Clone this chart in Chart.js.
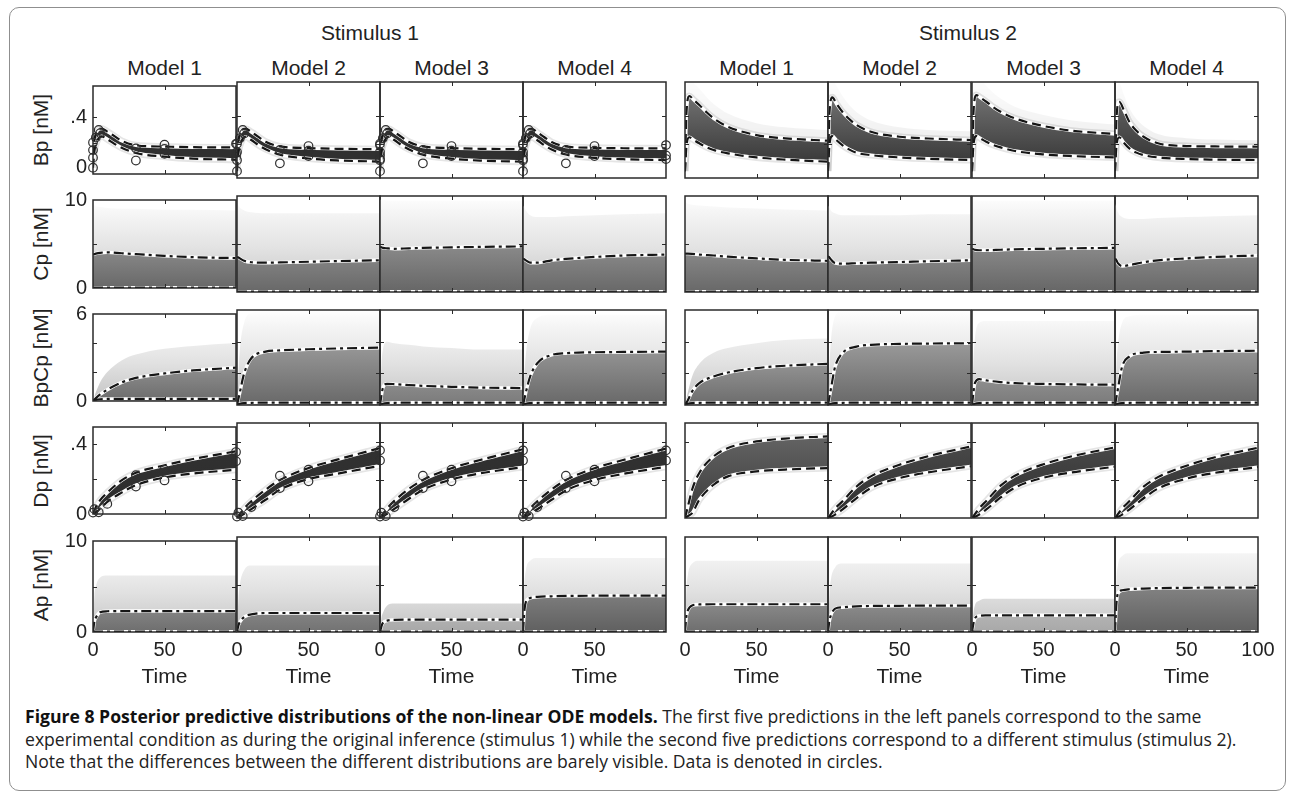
<!DOCTYPE html>
<html lang="en">
<head>
<meta charset="UTF-8">
<title>Figure 8 - Posterior predictive distributions</title>
<script src="https://cdn.jsdelivr.net/npm/chart.js"></script>
<style>
  body { margin: 0; background: #fff; font-family: "Liberation Sans", Arial, sans-serif; }
  #fig { position: relative; width: 1295px; height: 794px; overflow: hidden; background: #fff; }
  #frame { position: absolute; left: 9px; top: 7px; width: 1275px; height: 782px; border: 1.5px solid #8f8f8f; border-radius: 10px; }
  .lbl { position: absolute; font-size: 21px; color: #222; white-space: nowrap; transform: translate(-50%, -50%); }
  .ylab { transform: translate(-50%, -50%) rotate(-90deg); }
  canvas { position: absolute; }
  #caption { position: absolute; left: 25px; top: 705px; font-family: "Open Sans", sans-serif; font-size: 17.6px; line-height: 22.5px; color: #222; white-space: nowrap; }
  #caption b { color: #111; }
</style>
</head>
<body>
<div id="fig">
  <div id="frame"></div>
  <div id="caption"><b>Figure 8 Posterior predictive distributions of the non-linear ODE models.</b> The first five predictions in the left panels correspond to the same<br>experimental condition as during the original inference (stimulus 1) while the second five predictions correspond to a different stimulus (stimulus 2).<br>Note that the differences between the different distributions are barely visible. Data is denoted in circles.</div>
</div>
<script>
// ---- data ----
const tBp = [0, 1, 3, 6, 10, 15, 20, 30, 50, 70, 100];
const tGen = [0, 1, 2, 5, 10, 20, 30, 50, 70, 100];

const groupTitles = ['Stimulus 1', 'Stimulus 2'];
const modelTitles = ['Model 1', 'Model 2', 'Model 3', 'Model 4'];
const rowLabels = ['Bp [nM]', 'Cp [nM]', 'BpCp [nM]', 'Dp [nM]', 'Ap [nM]'];

// Bp: upper / lower dashed quantiles, one row per model
const bpUpS1 = [
  [0.10, 0.22, 0.295, 0.312, 0.287, 0.251, 0.214, 0.178, 0.168, 0.163, 0.161],
  [0.10, 0.22, 0.295, 0.310, 0.285, 0.250, 0.215, 0.180, 0.168, 0.163, 0.160],
  [0.10, 0.22, 0.295, 0.310, 0.285, 0.250, 0.215, 0.180, 0.168, 0.163, 0.160],
  [0.10, 0.22, 0.295, 0.310, 0.283, 0.247, 0.212, 0.180, 0.170, 0.167, 0.166]
];
const bpLoS1 = [
  [0.00, 0.13, 0.215, 0.250, 0.227, 0.190, 0.159, 0.117, 0.088, 0.072, 0.064],
  [0.00, 0.13, 0.215, 0.250, 0.227, 0.190, 0.160, 0.120, 0.092, 0.078, 0.070],
  [0.00, 0.13, 0.215, 0.250, 0.227, 0.190, 0.160, 0.120, 0.091, 0.077, 0.069],
  [0.00, 0.13, 0.215, 0.248, 0.225, 0.188, 0.158, 0.121, 0.097, 0.087, 0.081]
];
const bpUpS2 = [
  [0.00, 0.42, 0.548, 0.520, 0.482, 0.430, 0.385, 0.324, 0.263, 0.239, 0.222],
  [0.00, 0.42, 0.538, 0.490, 0.433, 0.378, 0.336, 0.287, 0.251, 0.238, 0.227],
  [0.00, 0.42, 0.555, 0.535, 0.506, 0.466, 0.433, 0.385, 0.329, 0.295, 0.271],
  [0.00, 0.38, 0.506, 0.450, 0.360, 0.294, 0.251, 0.203, 0.183, 0.180, 0.178]
];
const bpLoS2 = [
  [0.00, 0.18, 0.247, 0.228, 0.203, 0.175, 0.154, 0.130, 0.100, 0.084, 0.069],
  [0.00, 0.19, 0.256, 0.225, 0.190, 0.157, 0.134, 0.117, 0.100, 0.090, 0.081],
  [0.00, 0.19, 0.256, 0.238, 0.214, 0.190, 0.173, 0.147, 0.122, 0.110, 0.100],
  [0.00, 0.18, 0.247, 0.210, 0.166, 0.135, 0.117, 0.100, 0.088, 0.084, 0.081]
];
const bpHazeS2 = [
  [0.00, 0.62, 0.66, 0.64, 0.60, 0.54, 0.49, 0.42, 0.35, 0.32, 0.30],
  [0.00, 0.62, 0.66, 0.62, 0.55, 0.48, 0.43, 0.37, 0.32, 0.30, 0.29],
  [0.00, 0.62, 0.66, 0.66, 0.62, 0.57, 0.53, 0.47, 0.41, 0.37, 0.34],
  [0.00, 0.58, 0.64, 0.56, 0.46, 0.38, 0.33, 0.27, 0.24, 0.23, 0.225]
];
const bpObsT = [0, 0, 0, 0, 2, 4, 5, 30, 30, 50, 50, 50, 100, 100, 100];
const bpObsV = [0.0, 0.08, 0.14, 0.20, 0.24, 0.30, 0.275, 0.154, 0.057, 0.183, 0.149, 0.11, 0.19, 0.115, 0.088];

// Cp: upper dashed quantile and top of the light spread
const cpUpS1 = [
  [3.80, 3.85, 3.90, 4.00, 4.05, 3.95, 3.85, 3.65, 3.50, 3.40],
  [3.65, 3.60, 3.50, 3.25, 3.10, 3.05, 3.08, 3.15, 3.22, 3.30],
  [4.70, 4.65, 4.60, 4.55, 4.50, 4.55, 4.60, 4.65, 4.70, 4.75],
  [3.50, 3.40, 3.30, 3.05, 3.05, 3.30, 3.45, 3.65, 3.80, 3.90]
];
const cpUpS2 = [
  [4.00, 4.00, 4.00, 3.98, 3.90, 3.80, 3.68, 3.50, 3.35, 3.25],
  [3.75, 3.60, 3.40, 3.00, 2.95, 3.00, 3.05, 3.12, 3.20, 3.30],
  [4.50, 4.45, 4.40, 4.35, 4.35, 4.40, 4.45, 4.50, 4.55, 4.60],
  [3.50, 3.30, 3.00, 2.70, 2.80, 3.10, 3.30, 3.50, 3.65, 3.80]
];
const cpHazeS1 = [
  [9.4, 9.4, 9.3, 9.2, 9.1, 9.0, 9.0, 8.9, 8.9, 8.8],
  [9.2, 9.0, 8.8, 8.5, 8.3, 8.2, 8.2, 8.2, 8.2, 8.2],
  [9.6, 9.6, 9.6, 9.5, 9.5, 9.5, 9.5, 9.5, 9.5, 9.5],
  [9.0, 8.8, 8.5, 8.0, 7.8, 7.8, 7.9, 8.0, 8.1, 8.2]
];
const cpHazeS2 = [
  [9.3, 9.3, 9.2, 9.1, 9.0, 8.9, 8.8, 8.7, 8.6, 8.5],
  [9.0, 8.8, 8.5, 8.2, 8.0, 8.0, 8.0, 8.0, 8.1, 8.1],
  [9.6, 9.6, 9.6, 9.5, 9.5, 9.5, 9.5, 9.5, 9.5, 9.5],
  [9.2, 8.8, 8.3, 7.8, 7.6, 7.6, 7.7, 7.8, 7.9, 8.0]
];
const cpLo = [0.04, 0.04, 0.04, 0.04, 0.04, 0.04, 0.04, 0.04, 0.04, 0.04];

// BpCp
const bpcpUpS1 = [
  [0.00, 0.10, 0.20, 0.45, 0.78, 1.28, 1.59, 1.90, 2.11, 2.30],
  [0.00, 0.40, 0.80, 2.00, 2.95, 3.37, 3.45, 3.52, 3.57, 3.62],
  [0.00, 0.60, 1.07, 1.34, 1.32, 1.26, 1.21, 1.15, 1.10, 1.07],
  [0.00, 0.40, 0.80, 1.80, 2.64, 3.16, 3.27, 3.33, 3.35, 3.37]
];
const bpcpUpS2 = [
  [0.00, 0.15, 0.30, 0.86, 1.38, 1.80, 2.05, 2.33, 2.48, 2.60],
  [0.00, 0.50, 1.00, 2.43, 3.27, 3.69, 3.80, 3.86, 3.88, 3.90],
  [0.00, 0.80, 1.38, 1.63, 1.55, 1.45, 1.38, 1.33, 1.30, 1.28],
  [0.00, 0.50, 1.00, 2.43, 3.06, 3.31, 3.35, 3.37, 3.40, 3.43]
];
const bpcpHazeS1 = [
  [0.0, 0.3, 0.6, 1.3, 2.0, 2.8, 3.2, 3.6, 3.8, 4.0],
  [0.0, 2.0, 3.5, 5.2, 5.8, 5.9, 5.9, 5.9, 5.9, 5.9],
  [0.0, 2.5, 3.5, 4.0, 3.9, 3.8, 3.7, 3.6, 3.5, 3.5],
  [0.0, 2.0, 3.2, 4.8, 5.5, 5.7, 5.7, 5.7, 5.7, 5.7]
];
const bpcpHazeS2 = [
  [0.0, 0.4, 0.8, 1.8, 2.6, 3.3, 3.6, 3.9, 4.1, 4.2],
  [0.0, 2.5, 4.0, 5.6, 5.9, 5.9, 5.9, 5.9, 5.9, 5.9],
  [0.0, 2.8, 4.2, 5.2, 5.3, 5.3, 5.3, 5.3, 5.3, 5.3],
  [0.0, 2.5, 3.8, 5.2, 5.6, 5.7, 5.7, 5.7, 5.7, 5.7]
];
const bpcpLo = [0.00, 0.05, 0.08, 0.12, 0.14, 0.15, 0.15, 0.15, 0.15, 0.15];

// Dp
const dpUpS1 = [
  [0, 0.020, 0.040, 0.080, 0.123, 0.193, 0.237, 0.280, 0.316, 0.360],
  [0, 0.010, 0.020, 0.050, 0.088, 0.149, 0.200, 0.263, 0.307, 0.368],
  [0, 0.010, 0.020, 0.050, 0.090, 0.152, 0.200, 0.262, 0.305, 0.362],
  [0, 0.010, 0.020, 0.050, 0.088, 0.150, 0.200, 0.262, 0.305, 0.365]
];
const dpLoS1 = [
  [0, 0.005, 0.010, 0.030, 0.070, 0.123, 0.166, 0.210, 0.233, 0.254],
  [0, 0.003, 0.008, 0.022, 0.047, 0.096, 0.149, 0.205, 0.233, 0.275],
  [0, 0.003, 0.008, 0.022, 0.048, 0.100, 0.148, 0.203, 0.235, 0.268],
  [0, 0.003, 0.008, 0.022, 0.046, 0.096, 0.145, 0.200, 0.232, 0.270]
];
const dpUpS2 = [
  [0, 0.030, 0.060, 0.150, 0.237, 0.324, 0.368, 0.403, 0.418, 0.430],
  [0, 0.010, 0.020, 0.050, 0.087, 0.166, 0.219, 0.280, 0.325, 0.377],
  [0, 0.010, 0.020, 0.050, 0.090, 0.170, 0.222, 0.283, 0.325, 0.372],
  [0, 0.010, 0.020, 0.050, 0.088, 0.165, 0.215, 0.275, 0.320, 0.370]
];
const dpLoS2 = [
  [0, 0.005, 0.010, 0.026, 0.096, 0.175, 0.219, 0.245, 0.255, 0.263],
  [0, 0.003, 0.006, 0.018, 0.044, 0.105, 0.158, 0.210, 0.240, 0.272],
  [0, 0.003, 0.006, 0.018, 0.045, 0.108, 0.160, 0.212, 0.240, 0.270],
  [0, 0.003, 0.006, 0.018, 0.044, 0.104, 0.155, 0.207, 0.238, 0.268]
];
const dpObsT = [0, 1, 4, 10, 30, 30, 50, 50, 100, 100];
const dpObsV = [0.008, 0.028, 0.010, 0.058, 0.223, 0.158, 0.254, 0.193, 0.356, 0.303];

// Ap
const apUpS1 = [
  [0.00, 1.20, 1.58, 2.18, 2.28, 2.30, 2.30, 2.30, 2.30, 2.30],
  [0.00, 0.70, 1.05, 1.58, 1.86, 2.00, 2.00, 2.00, 2.00, 2.00],
  [0.00, 0.60, 0.95, 1.20, 1.28, 1.30, 1.30, 1.30, 1.30, 1.30],
  [0.00, 2.30, 3.16, 3.58, 3.70, 3.76, 3.80, 3.82, 3.83, 3.83]
];
const apUpS2 = [
  [0.00, 1.70, 2.28, 2.80, 2.90, 2.92, 2.92, 2.92, 2.92, 2.92],
  [0.00, 1.20, 1.76, 2.46, 2.60, 2.70, 2.74, 2.76, 2.78, 2.78],
  [0.00, 0.90, 1.41, 1.70, 1.75, 1.76, 1.76, 1.76, 1.76, 1.76],
  [0.00, 3.00, 4.04, 4.39, 4.50, 4.57, 4.62, 4.65, 4.67, 4.67]
];
const apHazeS1 = [
  [0.0, 4.0, 5.0, 6.0, 6.2, 6.2, 6.2, 6.2, 6.2, 6.2],
  [0.0, 3.5, 5.0, 6.5, 7.0, 7.0, 7.0, 7.0, 7.0, 7.0],
  [0.0, 1.5, 2.0, 2.8, 3.0, 3.0, 3.0, 3.0, 3.0, 3.0],
  [0.0, 5.0, 6.5, 7.5, 7.8, 7.8, 7.8, 7.8, 7.8, 7.8]
];
const apHazeS2 = [
  [0.0, 4.5, 6.0, 7.2, 7.5, 7.5, 7.5, 7.5, 7.5, 7.5],
  [0.0, 4.0, 5.5, 6.8, 7.2, 7.2, 7.2, 7.2, 7.2, 7.2],
  [0.0, 2.0, 2.8, 3.3, 3.5, 3.5, 3.5, 3.5, 3.5, 3.5],
  [0.0, 5.5, 7.0, 8.0, 8.3, 8.3, 8.3, 8.3, 8.3, 8.3]
];
const apLo = [0.04, 0.04, 0.04, 0.04, 0.04, 0.04, 0.04, 0.04, 0.04, 0.04];

// axis ranges and ticks per row
const yMin = [-0.05, 0, 0, 0, 0];
const yMax = [0.65, 10, 6, 0.5, 10];
const yTickLabels = [[0, 0.4], [0, 10], [0, 6], [0, 0.4], [0, 10]];
const yInnerTicks = [[0.2, 0.4], [5], [2, 4], [0.2, 0.4], [5]];
const xTickLabels = [0, 50];
const xTickLabelsLast = [0, 50, 100];

// ---- layout / styles ----
const colLeft = [93, 237, 380, 523, 685, 828, 972, 1115];
const panelW = 143;
const rowTop = [82, 196, 310, 423, 537];
const rowH = [96, 96, 95, 95, 95];

// fill tones [top, bottom] per row, stimulus, model
const bandTones = {
  0: [[['#303030', '#303030'], ['#303030', '#303030'], ['#303030', '#303030'], ['#303030', '#303030']],
      [['#7c7c7c', '#2c2c2c'], ['#7c7c7c', '#2c2c2c'], ['#7c7c7c', '#2c2c2c'], ['#6c6c6c', '#2c2c2c']]],
  3: [[['#333333', '#2c2c2c'], ['#333333', '#2c2c2c'], ['#333333', '#2c2c2c'], ['#333333', '#2c2c2c']],
      [['#6a6a6a', '#3a3a3a'], ['#505050', '#2e2e2e'], ['#505050', '#2e2e2e'], ['#505050', '#2e2e2e']]]
};
const areaTones = {
  1: [['#b4b4b4', '#686868'], ['#b4b4b4', '#686868'], ['#b0b0b0', '#666666'], ['#b4b4b4', '#686868']],
  2: [['#c4c4c4', '#6c6c6c'], ['#b4b4b4', '#686868'], ['#c4c4c4', '#7a7a7a'], ['#b4b4b4', '#686868']],
  4: [['#c8c8c8', '#6e6e6e'], ['#c8c8c8', '#727272'], ['#e4e4e4', '#a8a8a8'], ['#a8a8a8', '#606060']]
};

Chart.defaults.font.family = '"Liberation Sans", Arial, sans-serif';
Chart.defaults.color = '#222';

const fig = document.getElementById('fig');

function addLabel(text, x, y, extra) {
  const d = document.createElement('div');
  d.className = 'lbl' + (extra ? ' ' + extra : '');
  d.textContent = text;
  d.style.left = x + 'px';
  d.style.top = y + 'px';
  fig.appendChild(d);
}

addLabel(groupTitles[0], 370, 33);
addLabel(groupTitles[1], 968, 33);
colLeft.forEach((l, c) => addLabel(modelTitles[c % 4], l + panelW / 2, 68));
rowLabels.forEach((t, r) => addLabel(t, 41, rowTop[r] + rowH[r] / 2, 'ylab'));

// vertical gradient over the plot area; stops are [offset, colour] pairs
function vGrad(stops) {
  return c => {
    const a = c.chart.chartArea;
    if (!a) return stops[stops.length - 1][1];
    const g = c.chart.ctx.createLinearGradient(0, a.top, 0, a.bottom);
    stops.forEach(st => g.addColorStop(st[0], st[1]));
    return g;
  };
}

function pts(t, v) { return t.map((x, i) => ({ x: x, y: v[i] })); }

function curve(t, v, extra) {
  return Object.assign({
    data: pts(t, v), pointRadius: 0, fill: false, tension: 0,
    cubicInterpolationMode: 'monotone', borderCapStyle: 'butt', borderJoinStyle: 'round'
  }, extra);
}

// MATLAB-like box with inward ticks
const boxPlugin = {
  id: 'box',
  afterDraw(chart, args, opts) {
    const { ctx, chartArea: a, scales } = chart;
    ctx.save();
    ctx.strokeStyle = '#2a2a2a';
    ctx.lineWidth = 1;
    ctx.beginPath();
    opts.xTicks.forEach(v => {
      const px = Math.round(scales.x.getPixelForValue(v)) + 0.5;
      ctx.moveTo(px, a.bottom); ctx.lineTo(px, a.bottom - 4);
      ctx.moveTo(px, a.top); ctx.lineTo(px, a.top + 4);
    });
    opts.yTicks.forEach(v => {
      const py = Math.round(scales.y.getPixelForValue(v)) + 0.5;
      ctx.moveTo(a.left, py); ctx.lineTo(a.left + 4, py);
      ctx.moveTo(a.right, py); ctx.lineTo(a.right - 4, py);
    });
    ctx.stroke();
    ctx.lineWidth = 1.5;
    ctx.strokeRect(a.left, a.top, a.right - a.left, a.bottom - a.top);
    ctx.restore();
  }
};

const rowData = [
  { time: tBp, up: [bpUpS1, bpUpS2], lo: [bpLoS1, bpLoS2], haze: [null, bpHazeS2], obs: [bpObsT, bpObsV], band: true },
  { time: tGen, up: [cpUpS1, cpUpS2], lo: cpLo, haze: [cpHazeS1, cpHazeS2] },
  { time: tGen, up: [bpcpUpS1, bpcpUpS2], lo: bpcpLo, haze: [bpcpHazeS1, bpcpHazeS2] },
  { time: tGen, up: [dpUpS1, dpUpS2], lo: [dpLoS1, dpLoS2], haze: [null, null], obs: [dpObsT, dpObsV], band: true },
  { time: tGen, up: [apUpS1, apUpS2], lo: apLo, haze: [apHazeS1, apHazeS2] }
];

const whiteLine = { borderColor: '#ffffff', borderWidth: 3.4 };
const haloLine = { borderColor: 'rgba(0,0,0,0.10)', borderWidth: 7 };
const dashPlain = { borderColor: '#161616', borderWidth: 2.2, borderDash: [9, 5] };
const dashDot = { borderColor: '#161616', borderWidth: 2.2, borderDash: [10, 4, 3, 4] };
const spreadStops = [[0, '#ffffff'], [0.15, '#f6f6f6'], [0.55, '#e2e2e2'], [1, '#c4c4c4']];

function buildDatasets(r, s, m) {
  const rd = rowData[r];
  const t = rd.time;
  const up = rd.up[s][m];
  const ds = [];
  if (rd.band) {
    const lo = rd.lo[s][m];
    const tone = bandTones[r][s][m];
    ds.push(curve(t, lo, Object.assign({ order: 5 }, whiteLine)));                         // 0
    ds.push(curve(t, up, { order: 9, fill: 0, borderWidth: 1, borderColor: 'rgba(0,0,0,0)',
      backgroundColor: vGrad([[0, tone[0]], [1, tone[1]]]) }));                              // 1
    ds.push(curve(t, lo, Object.assign({ order: 11 }, haloLine)));
    ds.push(curve(t, up, Object.assign({ order: 11 }, haloLine)));
    ds.push(curve(t, up, Object.assign({ order: 5 }, whiteLine)));
    ds.push(curve(t, lo, Object.assign({ order: 4 }, dashPlain)));
    ds.push(curve(t, up, Object.assign({ order: 4 }, dashPlain)));
    if (rd.haze[s]) {
      ds.push(curve(t, rd.haze[s][m], { order: 12, fill: 1, borderWidth: 1, borderColor: 'rgba(0,0,0,0)',
        backgroundColor: vGrad([[0, 'rgba(0,0,0,0.01)'], [1, 'rgba(0,0,0,0.09)']]) }));
    }
    if (s === 0 && rd.obs) {
      ds.push({ data: pts(rd.obs[0], rd.obs[1]), showLine: false, order: 0, clip: false,
        pointRadius: 4.3, pointBorderWidth: 1.2, pointBorderColor: '#303030',
        pointBackgroundColor: 'rgba(255,255,255,0)' });
    }
  } else {
    const tone = areaTones[r][m];
    ds.push(curve(t, rd.lo, Object.assign({ order: 5 }, whiteLine)));                       // 0
    ds.push(curve(t, up, { order: 9, fill: 'origin', borderWidth: 1, borderColor: 'rgba(0,0,0,0)',
      backgroundColor: vGrad([[0, tone[0]], [1, tone[1]]]) }));                              // 1
    ds.push(curve(t, rd.haze[s][m], { order: 10, fill: 'origin', borderWidth: 1, borderColor: 'rgba(0,0,0,0)',
      backgroundColor: vGrad(spreadStops) }));
    ds.push(curve(t, up, Object.assign({ order: 5 }, whiteLine)));
    ds.push(curve(t, rd.lo, Object.assign({ order: 4 }, dashDot)));
    ds.push(curve(t, up, Object.assign({ order: 4 }, dashDot)));
  }
  return ds;
}

const fmtY = v => (v === 0 ? '0' : String(v).replace(/^0\./, '.'));

for (let r = 0; r < 5; r++) {
  for (let c = 0; c < 8; c++) {
    const s = c < 4 ? 0 : 1;
    const m = c % 4;
    const first = c === 0;
    const bottom = r === 4;
    const last = c === 7;
    const padL = first ? 60 : 14;
    const padR = last ? 26 : 14;
    const padT = 14;
    const padB = bottom ? 72 : 14;
    const w = panelW + padL + padR;
    const h = rowH[r] + padT + padB;
    const canvas = document.createElement('canvas');
    canvas.width = w;
    canvas.height = h;
    canvas.style.left = (colLeft[c] - padL) + 'px';
    canvas.style.top = (rowTop[r] - padT) + 'px';
    canvas.style.width = w + 'px';
    canvas.style.height = h + 'px';
    fig.appendChild(canvas);

    new Chart(canvas, {
      type: 'line',
      data: { datasets: buildDatasets(r, s, m) },
      options: {
        responsive: false,
        animation: false,
        devicePixelRatio: 1,
        events: [],
        layout: { padding: { left: first ? 8 : 14, right: padR, top: 14, bottom: 14 } },
        plugins: {
          legend: { display: false },
          tooltip: { enabled: false },
          box: { xTicks: [50], yTicks: yInnerTicks[r] }
        },
        scales: {
          x: {
            type: 'linear', min: 0, max: 100,
            grid: { display: false, drawTicks: false },
            border: { display: false },
            ticks: { display: bottom, padding: 6, autoSkip: false, maxRotation: 0, font: { size: 20 }, color: '#222' },
            afterBuildTicks: sc => { sc.ticks = (last ? xTickLabelsLast : xTickLabels).map(v => ({ value: v })); },
            title: { display: bottom, text: 'Time', font: { size: 21 }, color: '#222', padding: 0 },
            afterFit: sc => { sc.height = bottom ? 58 : 0; }
          },
          y: {
            type: 'linear', min: yMin[r], max: yMax[r],
            grid: { display: false, drawTicks: false },
            border: { display: false },
            ticks: { display: first, padding: 6, autoSkip: false, font: { size: 20 }, color: '#222', callback: fmtY },
            afterBuildTicks: sc => { sc.ticks = yTickLabels[r].map(v => ({ value: v })); },
            afterFit: sc => { sc.width = first ? 52 : 0; }
          }
        }
      },
      plugins: [boxPlugin]
    });
  }
}
</script>
</body>
</html>
